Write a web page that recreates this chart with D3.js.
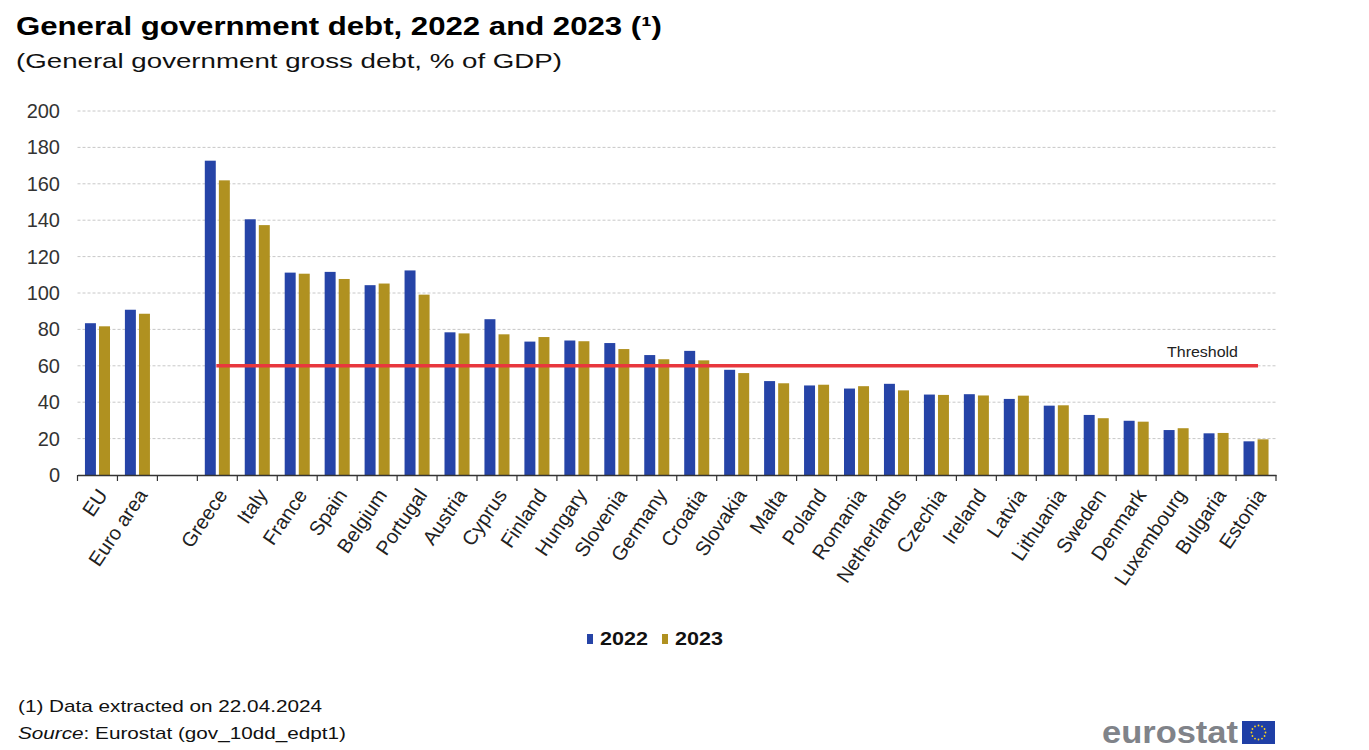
<!DOCTYPE html>
<html>
<head>
<meta charset="utf-8">
<script src="https://cdn.jsdelivr.net/npm/d3@7"></script>
<style>
  body { margin: 0; background: #fff; }
  svg { font-family: "Liberation Sans", Arial, sans-serif; }
</style>
</head>
<body>
<svg width="1369" height="750"></svg>
<script>

var categories = ["EU", "Euro area", "", "Greece", "Italy", "France", "Spain", "Belgium", "Portugal",
  "Austria", "Cyprus", "Finland", "Hungary", "Slovenia", "Germany", "Croatia", "Slovakia", "Malta",
  "Poland", "Romania", "Netherlands", "Czechia", "Ireland", "Latvia", "Lithuania", "Sweden",
  "Denmark", "Luxembourg", "Bulgaria", "Estonia"];

var debt2022 = [83.4, 90.8, null, 172.7, 140.5, 111.2, 111.6, 104.3, 112.4, 78.4, 85.6, 73.3, 73.9,
  72.5, 65.9, 68.2, 57.8, 51.6, 49.2, 47.5, 50.1, 44.2, 44.4, 41.8, 38.1, 33.0, 29.8, 24.7, 22.9, 18.5];

var debt2023 = [81.7, 88.6, null, 161.9, 137.3, 110.6, 107.7, 105.2, 99.1, 77.8, 77.3, 75.8, 73.5,
  69.2, 63.6, 63.0, 56.0, 50.4, 49.6, 48.8, 46.5, 44.0, 43.7, 43.6, 38.3, 31.2, 29.3, 25.7, 23.1, 19.6];

var years = ["2022", "2023"];
var colors = ["#2644a7", "#b09120"];
var yTicks = [0, 20, 40, 60, 80, 100, 120, 140, 160, 180, 200];
var threshold = 60;
var thresholdFrom = "Greece", thresholdTo = "Estonia";

var svg = d3.select("svg");

// keys for the band scale (the empty gap needs a unique key)
var keys = categories.map(function(c, i) { return i + "|" + c; });

var x = d3.scaleBand()
    .domain(keys)
    .range([77.5, 1276]);

var x1 = d3.scaleBand()
    .domain(years)
    .range([0, x.bandwidth()])
    .paddingInner(0.22)
    .paddingOuter(0.53);

var y = d3.scaleLinear()
    .domain([0, 200])
    .range([475, 111]);

// title (the original is a bit wider than the font, so stretch it)
svg.append("text")
    .attr("x", 16).attr("y", 35)
    .attr("font-size", 25).attr("font-weight", "bold").attr("fill", "#000")
    .attr("textLength", 646).attr("lengthAdjust", "spacingAndGlyphs")
    .text("General government debt, 2022 and 2023 (\u00b9)");
svg.append("text")
    .attr("x", 16).attr("y", 68)
    .attr("font-size", 21).attr("fill", "#111")
    .attr("textLength", 546).attr("lengthAdjust", "spacingAndGlyphs")
    .text("(General government  gross debt, % of GDP)");

// grid
svg.append("g")
  .selectAll("line")
  .data(yTicks.filter(function(d) { return d > 0; }))
  .enter().append("line")
    .attr("x1", 77.5).attr("x2", 1276)
    .attr("y1", function(d) { return y(d); })
    .attr("y2", function(d) { return y(d); })
    .attr("stroke", "#c8c8c8")
    .attr("stroke-dasharray", "3,2");

// y axis labels
var yAxis = d3.axisLeft(y).tickValues(yTicks).tickSize(0).tickPadding(0);
var gy = svg.append("g")
    .attr("transform", "translate(60,0)")
    .call(yAxis);
gy.select(".domain").remove();
gy.selectAll("text")
    .attr("font-size", 20)
    .attr("font-family", "Liberation Sans, Arial, sans-serif")
    .attr("fill", "#333");

// bars
var groups = svg.append("g")
  .selectAll("g")
  .data(keys)
  .enter().append("g")
    .attr("transform", function(d) { return "translate(" + x(d) + ",0)"; });

groups.selectAll("rect")
  .data(function(d, i) {
    return [debt2022[i], debt2023[i]].map(function(v, j) { return {year: years[j], value: v, c: colors[j]}; })
      .filter(function(o) { return o.value != null; });
  })
  .enter().append("rect")
    .attr("x", function(d) { return x1(d.year); })
    .attr("width", x1.bandwidth())
    .attr("y", function(d) { return y(d.value); })
    .attr("height", function(d) { return y(0) - y(d.value); })
    .attr("fill", function(d) { return d.c; });

// x axis
var xAxis = d3.axisBottom(x).tickSize(0).tickFormat(function(d) { return d.split("|")[1]; });
var gx = svg.append("g")
    .attr("transform", "translate(0," + y(0) + ")")
    .call(xAxis);
gx.select(".domain").attr("stroke", "#333").attr("stroke-width", 1.5);
gx.selectAll("text")
    .attr("font-size", 20)
    .attr("font-family", "Liberation Sans, Arial, sans-serif")
    .attr("fill", "#222")
    .attr("text-anchor", "end")
    .attr("x", 0).attr("y", 0).attr("dy", "0.35em")
    .attr("transform", "translate(5,16) rotate(-56)");

// ticks between categories
var bounds = keys.map(function(k) { return x(k); }).concat([x.range()[1]]);
svg.append("g")
  .selectAll("line")
  .data(bounds)
  .enter().append("line")
    .attr("x1", function(d) { return d; }).attr("x2", function(d) { return d; })
    .attr("y1", y(0)).attr("y2", y(0) + 6)
    .attr("stroke", "#333").attr("stroke-width", 1.2);

// threshold line
var kFrom = keys[categories.indexOf(thresholdFrom)], kTo = keys[categories.indexOf(thresholdTo)];
svg.append("line")
    .attr("x1", x(kFrom) + x.bandwidth() / 2 - 1)
    .attr("x2", x(kTo) + x.bandwidth() / 2 + 2)
    .attr("y1", y(threshold)).attr("y2", y(threshold))
    .attr("stroke", "#e8373d").attr("stroke-width", 3.5);
svg.append("text")
    .attr("x", 1167)
    .attr("y", y(threshold) - 9)
    .attr("font-size", 15).attr("fill", "#222")
    .attr("textLength", 71).attr("lengthAdjust", "spacingAndGlyphs")
    .text("Threshold");

// legend
var legend = svg.append("g").attr("transform", "translate(587,645)");
var lx = [0, 75];
years.forEach(function(yr, i) {
  legend.append("rect")
      .attr("x", lx[i]).attr("y", -11).attr("width", 6).attr("height", 10)
      .attr("fill", colors[i]);
  legend.append("text")
      .attr("x", lx[i] + 13).attr("y", 0)
      .attr("font-size", 18).attr("font-weight", "bold").attr("fill", "#111")
      .attr("textLength", 48).attr("lengthAdjust", "spacingAndGlyphs")
      .text(yr);
});

// footnotes
svg.append("text")
    .attr("x", 18).attr("y", 712)
    .attr("font-size", 17).attr("fill", "#111")
    .attr("textLength", 304).attr("lengthAdjust", "spacingAndGlyphs")
    .text("(1) Data extracted  on 22.04.2024");
var src = svg.append("text")
    .attr("x", 18).attr("y", 739)
    .attr("font-size", 17).attr("fill", "#111")
    .attr("textLength", 328).attr("lengthAdjust", "spacingAndGlyphs");
src.append("tspan").attr("font-style", "italic").text("Source");
src.append("tspan").text(": Eurostat (gov_10dd_edpt1)");

// eurostat logo
svg.append("text")
    .attr("x", 1102).attr("y", 743)
    .attr("font-size", 32).attr("font-weight", "bold").attr("fill", "#808389")
    .attr("textLength", 136).attr("lengthAdjust", "spacingAndGlyphs")
    .text("eurostat");
svg.append("rect")
    .attr("x", 1242).attr("y", 721).attr("width", 33).attr("height", 23)
    .attr("fill", "#1f3fa6");
d3.range(12).forEach(function(i) {
  var a = i / 12 * 2 * Math.PI;
  svg.append("circle")
      .attr("cx", 1258.5 + 7 * Math.cos(a))
      .attr("cy", 732.5 + 7 * Math.sin(a))
      .attr("r", 0.9)
      .attr("fill", "#ffd617");
});

</script>
</body>
</html>
